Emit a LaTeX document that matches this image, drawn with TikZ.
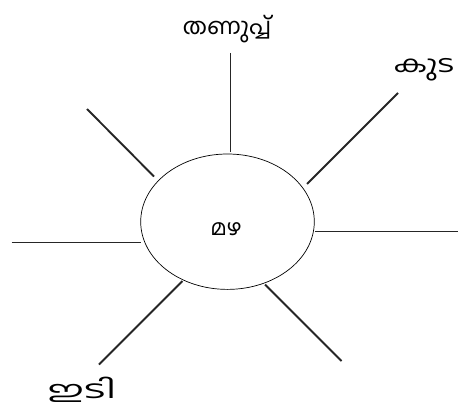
\documentclass[tikz,border=0pt]{standalone}
\usepackage{fontspec}
\usepackage{graphicx}
\newfontfamily\malfont[Script=Malayalam]{Hind Kochi}
\usetikzlibrary{shapes.geometric}
\begin{document}
\begin{tikzpicture}[x=1pt,y=-1pt,
  ray/.style={line width=1.9pt,black!85},
  lbl/.style={font=\malfont\fontsize{22}{26}\selectfont,inner sep=0pt}]
\useasboundingbox (0,0) rectangle (458,412);
\draw[line width=0.7pt] (227.5,221.7) ellipse [x radius=86.8, y radius=67.7];
\node[lbl] (c) at (226,229) {മഴ};
\node[lbl] (t1) at (227,29) {\scalebox{1.1}[1.03]{തണുപ്പ്}};
\node[lbl] (t2) at (424,70) {\scalebox{1.4}[1.05]{കുട}};
\node[lbl] (t3) at (82,390) {\scalebox{1.8}[1.1]{ഇടി}};
% ray end points
\coordinate (n1) at (230.5,53);   \coordinate (n2) at (230.5,152);
\coordinate (ne1) at (398,93);    \coordinate (ne2) at (307,184);
\coordinate (e1) at (315,231.5);  \coordinate (e2) at (458,231.5);
\coordinate (se1) at (265,284.5); \coordinate (se2) at (341.5,361);
\coordinate (sw1) at (182.5,281); \coordinate (sw2) at (99,364.5);
\coordinate (w1) at (11.5,242.5); \coordinate (w2) at (140.5,242.5);
\coordinate (nw1) at (87,109);    \coordinate (nw2) at (154,176.5);
\draw[ray] (n1) -- (n2);
\draw[ray] (ne1) -- (ne2);
\draw[ray] (e1) -- (e2);
\draw[ray] (se1) -- (se2);
\draw[ray] (sw1) -- (sw2);
\draw[ray] (w1) -- (w2);
\draw[ray] (nw1) -- (nw2);
\end{tikzpicture}
\end{document}
